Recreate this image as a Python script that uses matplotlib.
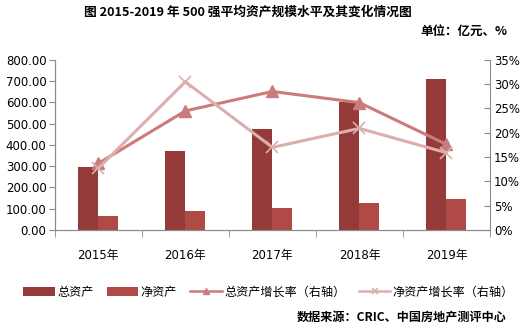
import matplotlib.pyplot as plt
import numpy as np

plt.rcParams['font.family'] = ['DejaVu Sans', 'Noto Sans CJK SC']

years = ['2015年', '2016年', '2017年', '2018年', '2019年']
total_assets = [298, 373, 477, 604, 709]
net_assets = [68, 90, 104, 126, 146]
total_growth = [13.7, 24.5, 28.5, 26.2, 17.6]
net_growth = [12.7, 30.5, 17.0, 20.9, 15.9]

c_total = '#943A38'
c_net = '#B04A47'
c_tg = '#CB7B7A'
c_ng = '#DDAEAE'
grey = '#8C8C8C'
cjk = ['Noto Sans CJK SC', 'DejaVu Sans']


def main():
    fig = plt.figure(figsize=(5.32, 3.29), dpi=100)
    ax = fig.add_axes([0.103, 0.301, 0.818, 0.517])
    ax2 = ax.twinx()

    x = np.arange(len(years))
    w = 0.23
    b1 = ax.bar(x - w / 2, total_assets, w, color=c_total, label='总资产')
    b2 = ax.bar(x + w / 2, net_assets, w, color=c_net, label='净资产')

    l1, = ax2.plot(x, total_growth, color=c_tg, lw=2.2, marker='^', ms=8,
                   label='总资产增长率（右轴）')
    l2, = ax2.plot(x, net_growth, color=c_ng, lw=2.2, marker='x', ms=8,
                   mew=1.2, label='净资产增长率（右轴）')

    ax.set_xlim(-0.5, len(years) - 0.5)
    ax.set_ylim(0, 800)
    ax.set_yticks(np.arange(0, 801, 100))
    ax.set_yticklabels(['%.2f' % v for v in np.arange(0, 801, 100)])
    ax2.set_ylim(0, 35)
    ax2.set_yticks(np.arange(0, 36, 5))
    ax2.set_yticklabels(['%d%%' % v for v in np.arange(0, 36, 5)])

    ax.set_xticks(x)
    ax.set_xticklabels(years)
    ax.set_xticks(np.arange(-0.5, len(years), 1), minor=True)
    ax.tick_params(axis='x', which='major', length=0, pad=14, labelsize=8.5)
    ax.tick_params(axis='x', which='minor', length=5, color=grey, direction='out')
    ax.tick_params(axis='y', length=4, color=grey, labelsize=8.5, pad=2)
    ax2.tick_params(axis='y', length=4, color=grey, labelsize=8.5, pad=3,
                    direction='in')

    for a in (ax, ax2):
        a.spines['top'].set_visible(False)
        for s in ('left', 'right', 'bottom'):
            a.spines[s].set_color(grey)
    ax.spines['right'].set_visible(False)

    fig.text(0.465, 0.962, '图 2015-2019 年 500 强平均资产规模水平及其变化情况图',
             ha='center', va='center', fontsize=9.2, fontweight='bold',
             family=cjk)
    fig.text(0.953, 0.905, '单位：亿元、%', ha='right', va='center',
             fontsize=9, fontweight='bold', family=cjk)

    leg = fig.legend([b1, b2, l1, l2],
                     ['总资产', '净资产', '总资产增长率（右轴）', '净资产增长率（右轴）'],
                     loc='center', bbox_to_anchor=(0.505, 0.112), ncol=4,
                     frameon=False, handlelength=2.6, markerscale=0.6,
                     handletextpad=0.2, columnspacing=1.1,
                     prop={'family': cjk, 'size': 8.7})
    for h in leg.legend_handles[2:]:
        h.set_linewidth(1.8)

    fig.text(0.953, 0.033, '数据来源：CRIC、中国房地产测评中心', ha='right', va='center',
             fontsize=8.7, fontweight='bold', family=cjk)

    fig.savefig('out.png', dpi=100)


if __name__ == "__main__":
    main()
